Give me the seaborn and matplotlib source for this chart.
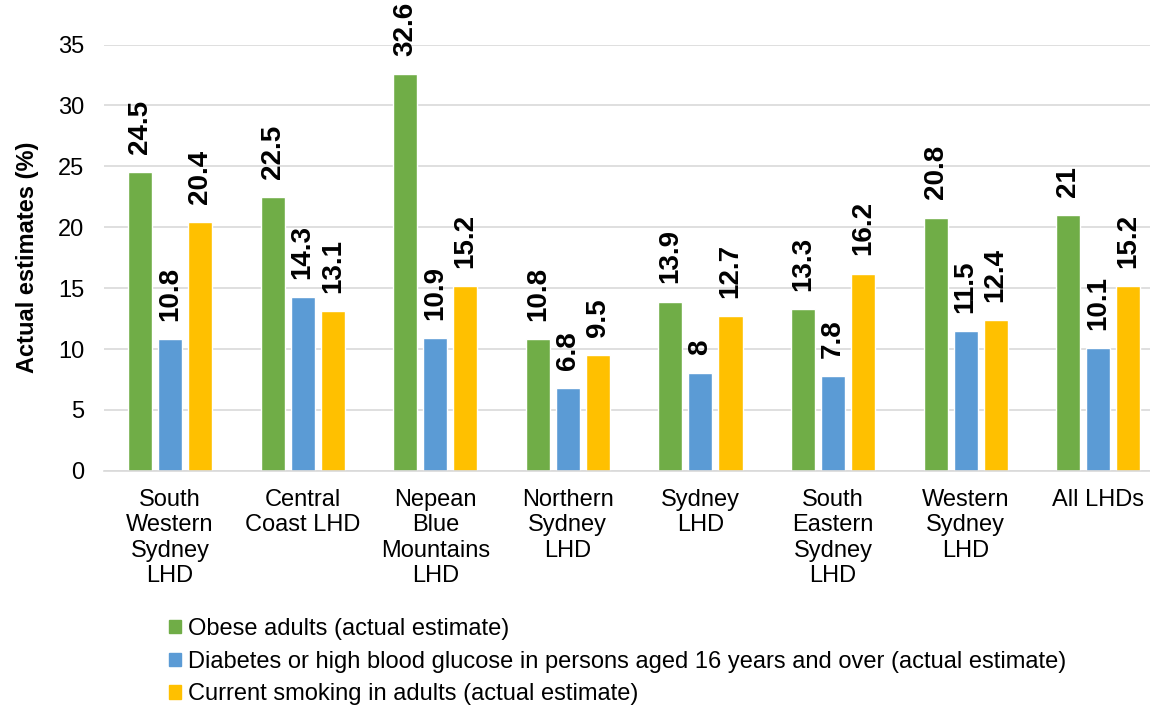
import seaborn as sns
import matplotlib.pyplot as plt
import pandas as pd

# data
districts = ["South\nWestern\nSydney\nLHD", "Central\nCoast LHD", "Nepean\nBlue\nMountains\nLHD",
             "Northern\nSydney\nLHD", "Sydney\nLHD", "South\nEastern\nSydney\nLHD",
             "Western\nSydney\nLHD", "All LHDs"]
obese = [24.5, 22.5, 32.6, 10.8, 13.9, 13.3, 20.8, 21]
diabetes = [10.8, 14.3, 10.9, 6.8, 8, 7.8, 11.5, 10.1]
smoking = [20.4, 13.1, 15.2, 9.5, 12.7, 16.2, 12.4, 15.2]
series = ["Obese adults (actual estimate)",
          "Diabetes or high blood glucose in persons aged 16 years and over (actual estimate)",
          "Current smoking in adults (actual estimate)"]
colors = ["#70AD47", "#5B9BD5", "#FFC000"]

rows = []
for name, vals in zip(series, [obese, diabetes, smoking]):
    for d, v in zip(districts, vals):
        rows.append({"district": d, "series": name, "value": v})
df = pd.DataFrame(rows)

sns.set_style("white")
plt.rcParams["font.family"] = ["Liberation Sans", "DejaVu Sans"]
plt.rcParams["text.color"] = "black"

fig = plt.figure(figsize=(11.5, 7.08), dpi=100)
ax = fig.add_axes([0.0903, 0.335, 0.9223, 0.602])

sns.barplot(data=df, x="district", y="value", hue="series", palette=colors,
            width=0.68, gap=0.2, saturation=1, ax=ax, legend=False)

for cont in ax.containers:
    ax.bar_label(cont, fmt="%g", rotation=90, padding=13, fontsize=20, fontweight="bold")

ax.set_ylim(0, 35)
ax.set_xlim(-0.5, 7.5)
ax.set_yticks(range(0, 36, 5))
ax.yaxis.grid(True, color="#D9D9D9", linewidth=1.2)
ax.set_axisbelow(True)
for s in ["top", "right", "left"]:
    ax.spines[s].set_visible(False)
ax.spines["bottom"].set_color("#D9D9D9")
ax.spines["bottom"].set_linewidth(1.2)
ax.tick_params(axis="both", length=0, labelsize=17, colors="black")
ax.tick_params(axis="x", pad=13)
ax.tick_params(axis="y", pad=14)
ax.set_xlabel("")
ax.set_ylabel("Actual estimates (%)", fontsize=17, fontweight="bold", labelpad=14, color="black")

handles = [plt.Rectangle((0, 0), 1, 1, color=c) for c in colors]
fig.legend(handles, series, loc="upper left", bbox_to_anchor=(0.147, 0.127), frameon=False,
           fontsize=17, handlelength=0.5, handleheight=0.5, handletextpad=0.3,
           labelspacing=0.45, borderaxespad=0, borderpad=0)

fig.savefig("out.png", dpi=100)
